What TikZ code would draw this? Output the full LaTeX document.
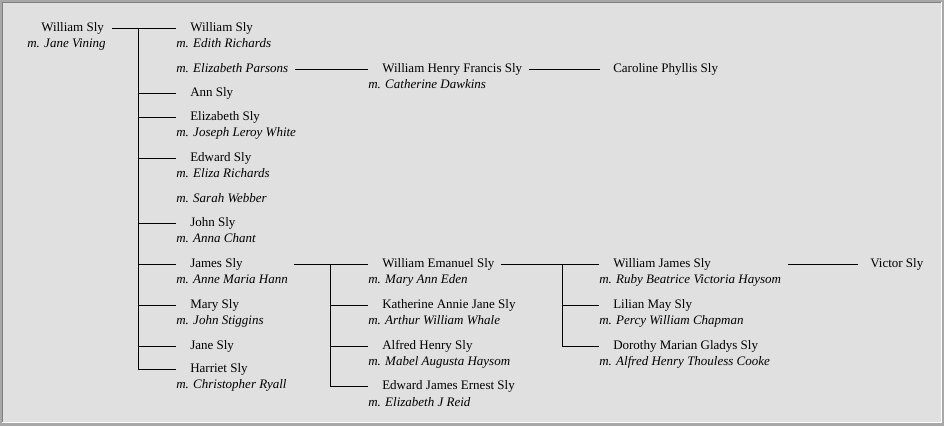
\documentclass[tikz,border=0pt]{standalone}
\usepackage{fontspec}
\setmainfont{Liberation Serif}
\usetikzlibrary{fit}
\definecolor{panel}{HTML}{E0E0E0}
\definecolor{rim}{HTML}{A8A8A8}
\definecolor{rimdark}{HTML}{808080}
\tikzstyle{person}=[anchor=west, inner sep=0pt, font=\fontsize{9.75}{12}\selectfont]
\tikzstyle{spouse}=[anchor=base west, inner sep=0pt, font=\fontsize{9.75}{12}\selectfont\itshape]
\tikzstyle{family}=[inner xsep=4.5pt, inner ysep=0pt]
\tikzstyle{descent}=[draw, line width=0.75pt]

\begin{document}
\begin{tikzpicture}[x=0.75pt, y=-0.75pt]
      \useasboundingbox (0, 0) rectangle (944, 426);
      \fill[rim] (0, 0) rectangle (944, 426);
      \fill[white] (2, 2) rectangle (942, 423);
      \fill[rimdark] (2, 2) rectangle (941, 422);
      \fill[panel] (3, 3) rectangle (941, 422);

      \node[person] (william) at (41, 28) {William Sly};
      \node[spouse] (william_m) at (27, 47.5) {m. Jane Vining};

      \node[person] (william2) at (190, 28) {William Sly};
      \node[spouse] (william2_m) at (176, 47.5) {m. Edith Richards};
      \node[spouse] (parsons) at (176, 72.5) {m. Elizabeth Parsons};
      \node[person] (ann) at (190, 93) {Ann Sly};
      \node[person] (elizabeth) at (190, 117) {Elizabeth Sly};
      \node[spouse] (elizabeth_m) at (176, 136.5) {m. Joseph Leroy White};
      \node[person] (edward) at (190, 158) {Edward Sly};
      \node[spouse] (edward_m) at (176, 177.5) {m. Eliza Richards};
      \node[spouse] (webber) at (176, 202.5) {m. Sarah Webber};
      \node[person] (john) at (190, 223) {John Sly};
      \node[spouse] (john_m) at (176, 242.5) {m. Anna Chant};
      \node[person] (james) at (190, 264) {James Sly};
      \node[spouse] (james_m) at (176, 283.5) {m. Anne Maria Hann};
      \node[person] (mary) at (190, 305) {Mary Sly};
      \node[spouse] (mary_m) at (176, 324.5) {m. John Stiggins};
      \node[person] (jane) at (190, 346) {Jane Sly};
      \node[person] (harriet) at (190, 369) {Harriet Sly};
      \node[spouse] (harriet_m) at (176, 388.5) {m. Christopher Ryall};

      \node[person] (francis) at (382, 69) {William Henry Francis Sly};
      \node[spouse] (francis_m) at (368, 88.5) {m. Catherine Dawkins};
      \node[person] (emanuel) at (382, 264) {William Emanuel Sly};
      \node[spouse] (emanuel_m) at (368, 283.5) {m. Mary Ann Eden};
      \node[person] (katherine) at (382, 305) {Katherine Annie Jane Sly};
      \node[spouse] (katherine_m) at (368, 324.5) {m. Arthur William Whale};
      \node[person] (alfred) at (382, 346) {Alfred Henry Sly};
      \node[spouse] (alfred_m) at (368, 365.5) {m. Mabel Augusta Haysom};
      \node[person] (ernest) at (382, 386) {Edward James Ernest Sly};
      \node[spouse] (ernest_m) at (368, 406) {m. Elizabeth J Reid};

      \node[person] (caroline) at (613, 69) {Caroline Phyllis Sly};
      \node[person] (wjames) at (613, 264) {William James Sly};
      \node[spouse] (wjames_m) at (599, 283.5) {m. Ruby Beatrice Victoria Haysom};
      \node[person] (lilian) at (613, 305) {Lilian May Sly};
      \node[spouse] (lilian_m) at (599, 324.5) {m. Percy William Chapman};
      \node[person] (dorothy) at (613, 346) {Dorothy Marian Gladys Sly};
      \node[spouse] (dorothy_m) at (599, 365.5) {m. Alfred Henry Thouless Cooke};

      \node[person] (victor) at (870, 264) {Victor Sly};

      \node[family, fit=(william) (william_m)] (william_fam) {};
      \node[family, fit=(parsons)] (parsons_fam) {};
      \node[family, fit=(francis) (francis_m)] (francis_fam) {};
      \node[family, fit=(james) (james_m)] (james_fam) {};
      \node[family, fit=(emanuel) (emanuel_m)] (emanuel_fam) {};
      \node[family, fit=(wjames) (wjames_m)] (wjames_fam) {};

      \coordinate (bar_a) at (138, 28);
      \coordinate (bar_b) at (330, 264);
      \coordinate (bar_c) at (562, 264);

      \draw[descent] (william_fam.east |- william.west) to ([xshift=-10.5pt]william2.west);
      \draw[descent] (bar_a) to (bar_a |- harriet.west);
      \foreach \child in {ann, elizabeth, edward, john, james, mary, jane, harriet}
        \draw[descent] (bar_a |- \child.west) to ([xshift=-10.5pt]\child.west);

      \draw[descent] (parsons_fam.east |- francis.west) to ([xshift=-10.5pt]francis.west);
      \draw[descent] (francis_fam.east |- francis.west) to ([xshift=-10pt]caroline.west);

      \draw[descent] (james_fam.east |- james.west) to ([xshift=-10.5pt]emanuel.west);
      \draw[descent] (bar_b) to (bar_b |- ernest.west);
      \foreach \child in {katherine, alfred, ernest}
        \draw[descent] (bar_b |- \child.west) to ([xshift=-10.5pt]\child.west);

      \draw[descent] (emanuel_fam.east |- emanuel.west) to ([xshift=-10.5pt]wjames.west);
      \draw[descent] (bar_c) to (bar_c |- dorothy.west);
      \foreach \child in {lilian, dorothy}
        \draw[descent] (bar_c |- \child.west) to ([xshift=-10.5pt]\child.west);

      \draw[descent] (wjames_fam.east |- wjames.west) to ([xshift=-9pt]victor.west);
\end{tikzpicture}
\end{document}
